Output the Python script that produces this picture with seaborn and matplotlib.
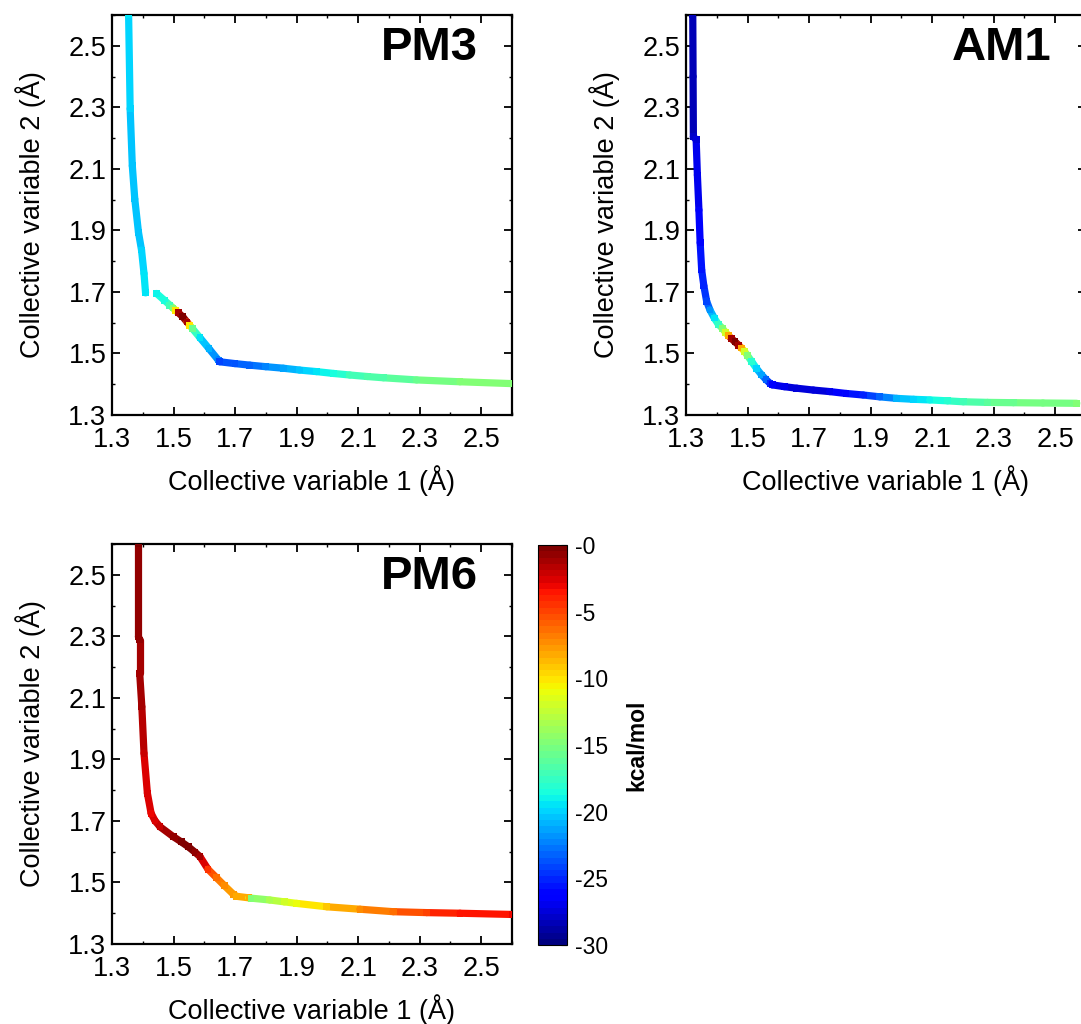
import numpy as np
import pandas as pd
import matplotlib
matplotlib.use("Agg")
import matplotlib as mpl
import matplotlib.pyplot as plt
from matplotlib.collections import LineCollection
from matplotlib.ticker import MultipleLocator
import seaborn as sns

# ---------------- data ----------------
pm3_x = [1.354, 1.359, 1.366, 1.374, 1.386, 1.396, 1.404, 1.409,
         1.445, 1.470, 1.488, 1.498, 1.507, 1.516, 1.530, 1.544, 1.553, 1.562,
         1.586, 1.615, 1.645, 1.650, 1.700, 1.748, 1.800, 1.857, 1.910, 1.965,
         2.020, 2.073, 2.130, 2.182, 2.290, 2.431, 2.600]
pm3_y = [2.600, 2.295, 2.110, 2.002, 1.894, 1.836, 1.760, 1.697,
         1.695, 1.673, 1.657, 1.648, 1.640, 1.632, 1.619, 1.602, 1.591, 1.580,
         1.551, 1.516, 1.479, 1.473, 1.467, 1.462, 1.457, 1.452, 1.446, 1.441,
         1.435, 1.430, 1.425, 1.421, 1.414, 1.408, 1.402]
pm3_e = [-19.5, -20.0, -20.5, -20.5, -20.5, -20.0, -19.5, -19.5,
         -19.0, -18.5, -17.0, -15.0, -10.0, -1.0, -0.2, -1.0, -10.0, -15.5,
         -19.5, -21.0, -22.5, -24.0, -23.8, -23.0, -22.5, -21.5, -20.5, -19.5,
         -18.5, -17.3, -16.8, -16.5, -15.6, -15.0, -14.6]
pm3_part = [0] * 8 + [1] * 27

am1_x = [1.322, 1.323, 1.324, 1.333, 1.337, 1.342, 1.346, 1.351, 1.358, 1.367,
         1.378, 1.392, 1.405, 1.418, 1.428, 1.438, 1.447, 1.459, 1.471, 1.480,
         1.490, 1.500, 1.514, 1.530, 1.546, 1.560, 1.573, 1.580, 1.620, 1.660,
         1.714, 1.768, 1.820, 1.876, 1.930, 1.985, 2.040, 2.093, 2.150, 2.201,
         2.280, 2.364, 2.460, 2.570]
am1_y = [2.600, 2.400, 2.204, 2.195, 2.080, 1.966, 1.860, 1.771, 1.720, 1.670,
         1.641, 1.615, 1.595, 1.582, 1.569, 1.558, 1.549, 1.538, 1.527, 1.518,
         1.507, 1.493, 1.473, 1.450, 1.430, 1.415, 1.403, 1.398, 1.392, 1.387,
         1.381, 1.376, 1.370, 1.365, 1.359, 1.354, 1.351, 1.349, 1.346, 1.343,
         1.341, 1.340, 1.339, 1.338]
am1_e = [-28.5, -28.3, -28.0, -27.2, -27.0, -26.5, -26.0, -25.5, -25.0, -24.0,
         -22.0, -19.5, -17.5, -15.0, -12.0, -8.0, -1.0, -0.2, -1.0, -8.0,
         -12.0, -15.0, -18.0, -20.0, -21.5, -23.0, -25.0, -26.5, -27.0, -27.5,
         -27.5, -27.0, -26.2, -25.0, -23.2, -21.0, -20.0, -19.0, -18.0, -17.0,
         -16.2, -15.5, -15.2, -15.0]
am1_part = [0] * 44

pm6_x = [1.386, 1.386, 1.390, 1.390, 1.397, 1.404, 1.415, 1.427, 1.440, 1.456,
         1.499, 1.525, 1.548, 1.570, 1.586, 1.612, 1.640, 1.665, 1.694, 1.705,
         1.745, 1.752, 1.813, 1.860, 1.900, 1.998, 2.106, 2.214, 2.323, 2.431,
         2.600]
pm6_y = [2.600, 2.299, 2.288, 2.180, 2.071, 1.920, 1.790, 1.725, 1.700, 1.681,
         1.649, 1.632, 1.616, 1.598, 1.584, 1.543, 1.515, 1.490, 1.462, 1.455,
         1.450, 1.449, 1.443, 1.437, 1.432, 1.421, 1.413, 1.405, 1.402, 1.400,
         1.396]
pm6_e = [-0.45, -0.7, -0.8, -1.1, -1.4, -2.1, -2.6, -3.0, -2.6, -1.9,
         -0.8, -0.3, -0.1, -0.5, -1.0, -4.5, -6.5, -7.5, -7.8, -8.0,
         -8.3, -14.8, -13.5, -12.0, -10.8, -9.3, -7.5, -6.1, -4.7, -3.5,
         -3.2]
pm6_part = [0] * 31

axis_ticks = [1.3, 1.5, 1.7, 1.9, 2.1, 2.3, 2.5]
axis_tick_labels = ["1.3", "1.5", "1.7", "1.9", "2.1", "2.3", "2.5"]
cbar_ticks = [-30, -25, -20, -15, -10, -5, 0]
cbar_tick_labels = ["-30", "-25", "-20", "-15", "-10", "-5", "-0"]
panel_names = ["PM3", "AM1", "PM6"]

# ---------------- style ----------------
sns.set_theme(style="ticks")
plt.rcParams["font.family"] = ["Liberation Sans", "DejaVu Sans"]
for k in ["text.color", "axes.labelcolor", "xtick.color", "ytick.color", "axes.edgecolor"]:
    plt.rcParams[k] = "black"

cmap = mpl.colormaps["jet"].resampled(64)
norm = mpl.colors.Normalize(vmin=-30, vmax=0)

W, H = 1081, 1024
fig = plt.figure(figsize=(W / 100, H / 100), dpi=100)


def box(l, t, w, h):
    return [l / W, 1 - (t + h) / H, w / W, h / H]


def draw_panel(ax, xs, ys, es, parts, name):
    df = pd.DataFrame({"x": xs, "y": ys, "E": es, "part": parts})
    segs, cols = [], []
    for i in range(len(xs) - 1):
        if parts[i] != parts[i + 1]:
            continue
        segs.append([(xs[i], ys[i]), (xs[i + 1], ys[i + 1])])
        cols.append(cmap(norm((es[i] + es[i + 1]) / 2)))
    lc = LineCollection(segs, colors=cols, linewidths=5.2, capstyle="round",
                        joinstyle="round", zorder=2)
    ax.add_collection(lc)
    sns.scatterplot(data=df, x="x", y="y", hue="E", palette=cmap, hue_norm=norm,
                    marker="s", s=24, linewidth=0, legend=False, ax=ax, zorder=3)
    ax.set_xlim(1.3, 2.6)
    ax.set_ylim(1.3, 2.6)
    ax.set_xticks(axis_ticks)
    ax.set_xticklabels(axis_tick_labels)
    ax.set_yticks(axis_ticks)
    ax.set_yticklabels(axis_tick_labels)
    ax.xaxis.set_minor_locator(MultipleLocator(0.1))
    ax.yaxis.set_minor_locator(MultipleLocator(0.1))
    ax.tick_params(which="both", direction="in", top=True, right=True)
    ax.tick_params(which="major", length=6, width=1.3, labelsize=19.5)
    ax.tick_params(axis="x", which="major", pad=8.5)
    ax.tick_params(axis="y", which="major", pad=4)
    ax.tick_params(which="minor", length=2.5, width=1.0)
    for sp in ax.spines.values():
        sp.set_linewidth(1.6)
        sp.set_color("black")
    ax.set_xlabel("Collective variable 1 (Å)", fontsize=19.5, labelpad=9)
    ax.set_ylabel("Collective variable 2 (Å)", fontsize=19.5, labelpad=16)
    ax.text(0.915, 0.972, name, transform=ax.transAxes, ha="right", va="top",
            fontsize=34, fontweight="bold")


ax1 = fig.add_axes(box(112, 15, 400, 400))
ax2 = fig.add_axes(box(686, 15, 400, 400))
ax3 = fig.add_axes(box(112, 544, 400, 400))

draw_panel(ax1, pm3_x, pm3_y, pm3_e, pm3_part, panel_names[0])
draw_panel(ax2, am1_x, am1_y, am1_e, am1_part, panel_names[1])
draw_panel(ax3, pm6_x, pm6_y, pm6_e, pm6_part, panel_names[2])

cax = fig.add_axes(box(538, 545, 29, 400))
sm = mpl.cm.ScalarMappable(norm=norm, cmap=cmap)
cb = fig.colorbar(sm, cax=cax)
cb.set_ticks(cbar_ticks)
cb.set_ticklabels(cbar_tick_labels)
cb.outline.set_linewidth(0.8)
cax.tick_params(direction="in", length=4, width=0.8, labelsize=16.5, pad=6)
cb.set_label("kcal/mol", fontsize=16.5, fontweight="bold", labelpad=12)

fig.savefig("out.png", dpi=100)
